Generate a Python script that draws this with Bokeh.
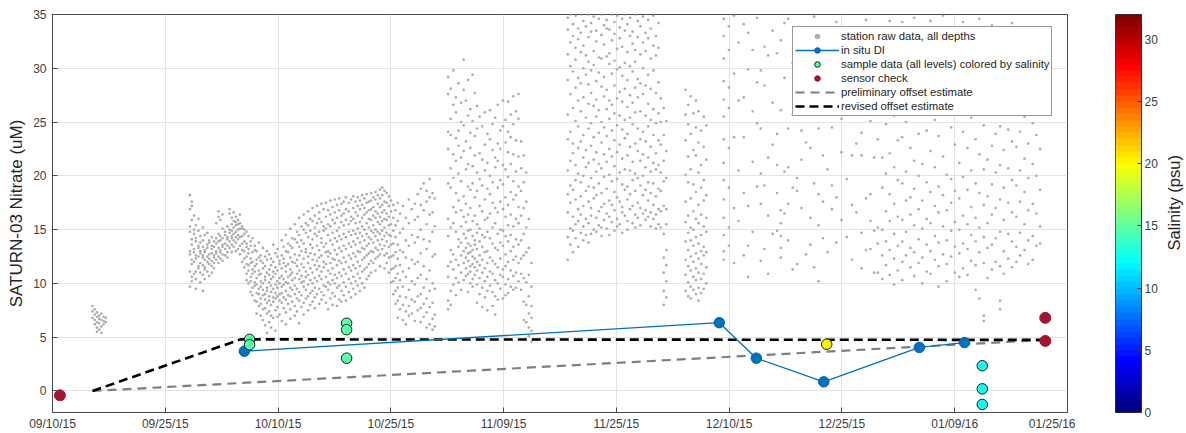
import numpy as np
from math import pi
from bokeh.plotting import figure
from bokeh.models import (ColumnDataSource, FixedTicker, Legend, LegendItem,
                          LinearColorMapper, Label, CustomJSTickFormatter)
from bokeh.layouts import row
from bokeh.embed import file_html
from bokeh.resources import INLINE
from bokeh.transform import linear_cmap

# ---------------- data (x = days since 09/10/15) ----------------
x_tick_labels = ["09/10/15", "09/25/15", "10/10/15", "10/25/15", "11/09/15",
                 "11/25/15", "12/10/15", "12/25/15", "01/09/16", "01/25/16"]
x_span_days = 137
y_tick_values = [0, 5, 10, 15, 20, 25, 30, 35]
sal_tick_values = [0, 5, 10, 15, 20, 25, 30]

# station raw data, all depths: (day, [nitrate values read at that day])
raw_columns = [
    (5.4, [7.9, 7.4, 6.8]), (5.7, [7.6, 7.1, 6.6, 6.2]), (6.0, [7.3, 6.9, 6.4, 5.9, 5.5]),
    (6.3, [7.0, 6.7, 6.3, 5.7]), (6.6, [7.2, 6.6, 6.0, 5.4]), (6.9, [6.9, 6.5, 6.2]), (7.2, [6.8, 6.4]),
    (18.55, [18.2, 16.9, 15.3, 14.8, 13.0, 12.7, 11.1, 9.7]),
    (18.8, [17.6, 17.2, 15.9, 14.1, 13.6, 12.2, 11.8, 10.6, 10.2]),
    (19.1, [16.3, 15.0, 14.6, 13.2, 12.9, 12.0, 10.9]),
    (19.35, [15.4, 14.2, 13.9, 12.6, 12.3, 11.1, 10.4, 9.5]),
    (19.7, [16.0, 14.9, 13.5, 13.3, 12.5, 11.6, 11.4]),
    (19.95, [14.4, 13.8, 13.0, 12.8, 11.9, 11.0, 10.1]),
    (20.3, [15.2, 14.0, 13.4, 12.6, 12.4, 11.7, 10.8, 9.3]),
    (20.55, [14.5, 13.1, 12.9, 12.2, 11.5, 11.3, 10.4]),
    (20.9, [14.7, 13.6, 13.3, 12.5, 12.0, 11.1]),
    (21.15, [14.0, 13.8, 12.7, 12.3, 11.8, 10.7]),
    (21.5, [14.3, 13.5, 13.2, 12.8, 12.1, 11.6, 11.0]),
    (21.8, [13.9, 13.4, 12.6, 12.4, 11.9, 11.4]),
    (22.1, [15.6, 14.2, 13.7, 13.0, 12.8, 12.2]),
    (22.4, [16.7, 16.2, 14.6, 13.9, 13.3, 12.5, 11.9]),
    (22.65, [15.9, 14.4, 14.0, 13.1, 12.9, 12.3]),
    (22.95, [16.4, 15.1, 14.2, 13.6, 13.4, 12.7, 12.1]),
    (23.3, [14.8, 14.5, 13.7, 13.2, 12.6]),
    (23.6, [15.3, 14.3, 14.1, 13.5, 12.9, 12.4]),
    (23.9, [16.9, 16.5, 15.0, 14.7, 13.9, 13.3]),
    (24.2, [16.1, 15.5, 14.9, 14.4, 14.2, 13.6, 12.9]),
    (24.45, [16.6, 15.8, 15.2, 14.6, 14.0, 13.4]),
    (24.75, [16.2, 15.7, 15.4, 14.8, 14.3, 13.8, 13.0]),
    (25.05, [15.9, 15.5, 15.0, 14.5, 14.1, 13.2]),
    (25.3, [16.4, 15.6, 15.1, 14.3, 13.5, 12.7]),
    (25.6, [15.3, 15.1, 14.4, 13.7, 13.1, 12.0]),
    (25.9, [15.0, 14.6, 13.9, 13.0, 12.3, 11.5]),
    (26.2, [14.8, 13.7, 13.4, 12.5, 11.8, 10.9, 10.3]),
    (26.45, [14.4, 13.2, 12.8, 11.7, 11.2, 10.0]),
    (26.75, [13.9, 13.5, 12.3, 11.9, 10.6, 10.2, 9.2]),
    (27.0, [14.2, 12.9, 12.0, 11.3, 10.9, 9.6, 8.9]),
    (27.3, [13.5, 13.1, 11.6, 11.1, 10.1, 9.8, 8.4]),
    (27.55, [13.0, 12.2, 11.8, 10.5, 9.9, 9.1, 8.3, 7.2]),
    (27.85, [13.8, 12.4, 11.2, 10.8, 9.5, 9.0, 7.9]),
    (28.1, [12.6, 12.1, 10.9, 10.2, 9.7, 8.6, 8.1, 7.0]),
    (28.4, [13.3, 11.9, 11.4, 10.0, 9.4, 8.9, 7.6, 6.6]),
    (28.7, [12.5, 11.6, 10.6, 10.3, 9.0, 8.5, 7.7, 6.1]),
    (28.95, [13.0, 12.2, 11.0, 9.6, 9.3, 8.2, 7.2, 5.4]),
    (29.25, [12.7, 11.3, 10.8, 10.1, 8.8, 8.4, 7.4, 6.4]),
    (29.5, [12.3, 11.7, 10.4, 9.8, 9.2, 8.0, 7.0, 5.9]),
    (29.8, [13.6, 12.0, 11.1, 10.6, 9.5, 8.7, 8.3, 6.8]),
    (30.1, [12.8, 11.5, 10.9, 9.9, 9.1, 8.6, 7.5, 5.6]),
    (30.35, [13.2, 12.5, 11.2, 10.2, 9.6, 8.8, 7.8, 6.9]),
    (30.65, [12.1, 11.8, 10.5, 10.0, 9.0, 8.4, 7.1]),
    (30.95, [14.0, 12.6, 11.4, 10.7, 9.7, 9.1, 8.2, 6.5]),
    (31.2, [13.4, 12.3, 11.9, 10.4, 9.9, 8.7, 7.7]),
    (31.5, [14.5, 13.0, 11.6, 11.1, 10.1, 9.3, 8.5, 7.3, 6.2]),
    (31.8, [13.7, 12.9, 11.8, 10.6, 10.0, 8.9, 8.1]),
    (32.1, [15.1, 13.5, 12.4, 11.3, 10.8, 9.6, 8.8, 7.6, 6.7]),
    (32.35, [14.2, 13.3, 12.0, 11.0, 10.3, 9.4, 8.3]),
    (32.7, [15.5, 14.1, 12.7, 11.9, 10.5, 9.8, 9.0, 7.9, 7.0]),
    (33.0, [14.8, 13.8, 12.2, 11.6, 10.9, 9.5, 8.6, 7.4]),
    (33.3, [16.1, 14.5, 13.4, 12.6, 11.2, 10.4, 9.2, 8.4, 6.3]),
    (33.6, [15.3, 14.0, 13.0, 11.8, 10.7, 10.1, 8.9, 7.8]),
    (33.9, [16.4, 15.0, 13.7, 12.3, 11.5, 10.2, 9.7, 8.2, 7.1]),
    (34.2, [15.6, 14.7, 13.2, 12.9, 11.1, 10.6, 9.4, 8.6]),
    (34.5, [16.7, 15.4, 14.3, 12.5, 11.9, 10.8, 9.9, 8.8, 7.5]),
    (34.8, [16.0, 14.9, 13.6, 12.8, 11.4, 10.3, 9.1, 8.0]),
    (35.1, [17.0, 15.8, 14.1, 13.3, 12.2, 11.0, 10.0, 9.3, 8.3]),
    (35.4, [16.3, 15.2, 14.6, 12.7, 11.7, 10.5, 9.6, 8.7, 7.7]),
    (35.7, [17.2, 15.6, 14.4, 13.5, 12.1, 11.3, 10.2, 9.0]),
    (36.0, [16.6, 16.0, 14.8, 13.1, 12.4, 11.6, 10.7, 9.5, 8.1]),
    (36.3, [17.4, 15.7, 14.2, 13.8, 12.6, 11.1, 10.4, 9.2, 8.5]),
    (36.6, [16.9, 15.3, 14.9, 13.4, 12.0, 11.5, 9.8, 8.9]),
    (36.9, [17.5, 16.2, 15.1, 13.7, 12.9, 11.8, 10.6, 9.7, 8.2]),
    (37.2, [16.8, 15.5, 14.5, 13.0, 12.5, 11.2, 10.1, 9.4, 7.6]),
    (37.5, [17.7, 16.4, 15.3, 14.0, 12.8, 11.9, 10.9, 9.9, 8.6]),
    (37.8, [17.1, 15.9, 14.7, 13.6, 12.3, 11.4, 10.3, 9.1, 8.0]),
    (38.1, [17.8, 16.6, 15.6, 14.2, 13.1, 12.2, 10.8, 10.0, 8.8]),
    (38.4, [17.3, 16.1, 14.9, 13.9, 12.7, 11.7, 10.5, 9.6, 7.9]),
    (38.7, [17.9, 16.8, 15.2, 14.4, 13.3, 12.1, 11.0, 9.8, 8.5]),
    (39.0, [17.4, 16.3, 15.7, 14.1, 13.0, 11.9, 10.7, 9.3, 8.3]),
    (39.3, [17.6, 16.5, 15.4, 14.6, 13.5, 12.4, 11.3, 10.1, 8.9]),
    (39.6, [18.0, 16.9, 15.9, 14.3, 13.2, 12.0, 10.9, 9.7, 8.4]),
    (40.0, [17.5, 16.7, 15.5, 14.8, 13.7, 12.6, 11.5, 10.4, 9.2]),
    (40.3, [17.8, 16.2, 15.8, 14.5, 13.4, 12.3, 11.2, 10.0, 8.7]),
    (40.6, [18.1, 17.0, 16.0, 14.9, 13.9, 12.8, 11.7, 10.6, 9.5]),
    (40.9, [17.6, 16.6, 15.6, 14.6, 13.6, 12.5, 11.4, 10.2, 9.0]),
    (41.2, [18.0, 17.2, 16.3, 15.1, 14.2, 13.0, 12.0, 10.9, 9.8]),
    (41.5, [17.7, 16.9, 15.7, 14.7, 13.8, 12.9, 11.6, 10.5, 9.3]),
    (41.8, [18.2, 17.3, 16.1, 15.3, 14.4, 13.3, 12.2, 11.1, 10.0]),
    (42.1, [17.9, 17.0, 16.4, 15.0, 14.0, 13.2, 12.4, 11.3, 9.6]),
    (42.4, [18.3, 17.5, 16.6, 15.6, 14.6, 13.5, 12.6, 11.5, 10.4]),
    (42.7, [17.6, 16.8, 16.0, 15.2, 14.3, 13.7, 12.8, 11.8, 10.7]),
    (43.0, [18.4, 17.7, 16.9, 15.9, 14.9, 14.1, 13.0, 12.1, 11.0]),
    (43.3, [18.0, 17.1, 16.3, 15.4, 14.7, 13.8, 12.9, 11.9]),
    (43.6, [18.5, 17.8, 16.7, 16.1, 15.0, 14.4, 13.3, 12.3, 11.2]),
    (43.9, [18.2, 17.4, 16.5, 15.7, 14.8, 14.0, 13.1, 12.5]),
    (44.2, [18.7, 17.9, 17.1, 16.2, 15.5, 14.6, 13.6, 12.7, 11.6]),
    (44.5, [18.9, 18.2, 17.3, 16.6, 15.8, 14.9, 14.1, 13.2]),
    (44.8, [18.6, 17.6, 16.8, 16.0, 15.2, 14.4, 13.5, 12.6, 11.4]),
    (45.1, [18.4, 17.5, 16.5, 15.9, 14.7, 13.9, 12.8, 11.9]),
    (45.4, [18.1, 17.2, 16.2, 15.4, 14.5, 13.4, 12.4, 11.0]),
    (45.7, [17.7, 16.7, 15.5, 14.4, 13.6, 12.5, 11.3, 10.1]),
    (46.0, [17.3, 16.1, 14.9, 13.7, 12.6, 11.4, 10.2, 9.0]),
    (46.3, [16.8, 15.4, 14.3, 12.9, 11.6, 10.5, 9.3, 8.1]),
    (46.6, [17.5, 15.8, 13.6, 12.3, 10.9, 9.6, 8.4, 6.8]),
    (46.9, [16.5, 14.7, 13.1, 11.7, 10.3, 8.8, 7.6]),
    (47.3, [17.2, 15.1, 12.9, 11.1, 9.7, 8.0, 6.6]),
    (47.7, [16.1, 14.0, 12.4, 10.6, 8.7, 7.4, 6.2]),
    (48.1, [17.8, 15.6, 13.5, 11.4, 9.4, 7.9, 7.0]),
    (48.5, [16.9, 14.5, 12.2, 10.2, 8.5, 7.2]),
    (48.9, [17.4, 15.9, 13.8, 11.8, 9.9, 8.3, 6.5]),
    (49.3, [18.3, 16.2, 14.3, 12.0, 10.5, 8.8, 7.5]),
    (49.7, [18.8, 17.3, 15.0, 12.8, 10.8, 9.0, 7.7, 6.4]),
    (50.1, [19.3, 16.8, 14.1, 11.6, 9.6, 8.1, 6.9]),
    (50.5, [18.6, 17.6, 15.5, 13.2, 10.4, 8.6, 7.3, 5.9]),
    (50.9, [19.7, 18.0, 16.4, 13.9, 11.2, 9.3, 7.8, 6.2]),
    (51.3, [18.4, 16.6, 14.8, 12.5, 10.0, 8.2, 6.7, 5.7]),
    (51.6, [17.9, 15.3, 12.7, 9.5, 7.1, 6.0]),
    (53.4, [29.2, 27.6, 24.1, 22.5, 19.3, 16.0, 14.4, 11.6, 10.6, 8.4, 7.6]),
    (53.75, [28.1, 25.3, 23.8, 20.7, 18.9, 15.2, 13.1, 12.0, 9.3, 8.0]),
    (54.1, [29.8, 26.6, 22.0, 19.8, 17.1, 15.6, 12.7, 11.3, 9.9]),
    (54.45, [27.3, 25.9, 23.5, 21.4, 18.4, 16.6, 14.8, 12.2, 10.5, 8.9]),
    (54.8, [28.6, 24.2, 22.8, 20.2, 17.7, 14.1, 13.4, 11.7, 10.1]),
    (55.15, [26.8, 25.0, 21.7, 19.5, 16.8, 15.3, 13.8, 12.6, 11.0, 9.4]),
    (55.5, [30.8, 28.0, 24.7, 22.3, 18.1, 16.2, 14.6, 13.0, 11.9, 10.3]),
    (55.8, [27.0, 23.2, 20.6, 17.4, 15.7, 14.2, 13.3, 12.4, 11.4, 10.7]),
    (56.1, [28.9, 25.6, 21.1, 19.0, 16.4, 14.9, 13.7, 12.8, 12.1, 10.9, 9.2]),
    (56.4, [26.2, 24.0, 22.6, 18.7, 17.0, 15.0, 13.5, 12.9, 11.6, 11.1, 10.0]),
    (56.7, [29.4, 25.1, 20.9, 19.3, 15.8, 14.4, 13.1, 12.5, 11.8, 10.4, 9.7]),
    (57.0, [27.7, 23.7, 21.9, 18.0, 16.3, 14.0, 13.6, 12.3, 11.5, 10.8]),
    (57.3, [26.5, 24.4, 20.3, 18.6, 15.5, 14.7, 13.2, 12.0, 11.2, 9.9, 8.2]),
    (57.65, [25.5, 22.1, 19.7, 17.2, 15.1, 13.9, 12.6, 11.7, 10.5, 9.0]),
    (58.0, [24.6, 21.5, 19.1, 16.7, 14.5, 13.4, 12.2, 11.0, 9.6, 7.8]),
    (58.35, [25.9, 22.9, 20.5, 17.8, 15.9, 14.3, 12.9, 11.4, 10.2, 8.7]),
    (58.7, [23.9, 21.2, 18.8, 16.1, 14.8, 13.0, 11.9, 10.6, 9.3, 7.5]),
    (59.05, [26.1, 23.4, 20.0, 18.3, 16.5, 14.2, 12.4, 11.1, 9.8]),
    (59.4, [24.8, 22.4, 19.4, 17.5, 15.2, 13.7, 12.1, 10.9, 9.2, 7.9]),
    (59.75, [25.4, 21.7, 20.8, 17.0, 15.6, 13.3, 11.8, 10.3, 8.8, 7.1]),
    (60.1, [26.6, 23.0, 21.4, 18.9, 16.6, 14.6, 13.1, 11.5, 10.0, 8.5]),
    (60.45, [24.2, 22.5, 19.6, 17.6, 15.0, 13.8, 12.3, 10.8, 9.5]),
    (60.8, [27.0, 24.6, 21.0, 19.2, 16.9, 14.9, 13.5, 11.3, 10.6, 8.6]),
    (61.15, [25.2, 23.1, 20.6, 18.0, 16.2, 14.4, 12.7, 11.6, 9.9, 8.9]),
    (61.5, [26.9, 24.1, 22.2, 19.9, 17.3, 15.4, 13.9, 12.0, 10.4, 9.1]),
    (61.85, [25.7, 23.6, 21.1, 18.5, 16.4, 14.5, 13.0, 11.2, 9.7]),
    (62.2, [27.4, 24.8, 22.0, 19.5, 17.8, 15.3, 13.4, 12.2, 10.7, 9.4]),
    (62.55, [26.0, 23.3, 20.4, 18.2, 16.0, 14.1, 12.5, 11.0, 9.6]),
    (62.9, [27.6, 25.3, 21.8, 19.0, 17.1, 15.6, 13.6, 11.9, 10.2]),
    (63.25, [23.2, 20.7, 18.6, 16.3, 14.0, 12.3, 10.9, 9.4]),
    (63.6, [21.9, 19.4, 17.0, 14.6, 12.6, 10.5, 8.3, 6.6]),
    (63.95, [20.3, 17.6, 15.2, 12.9, 10.1, 8.0, 6.4]),
    (64.3, [16.0, 13.3, 10.8, 8.8, 7.2, 5.9, 5.1]),
    (64.65, [11.9, 9.7, 7.9, 6.8, 5.6, 4.6]),
    (69.55, [34.7, 33.6, 31.3, 28.9, 25.7, 23.4, 20.5, 18.3, 16.6, 14.3, 12.2]),
    (69.9, [35.0, 32.4, 30.2, 27.6, 24.1, 21.4, 19.1, 17.5, 15.1, 13.6]),
    (70.25, [34.1, 33.0, 29.7, 26.3, 23.0, 22.1, 18.7, 16.2, 14.9, 12.9]),
    (70.6, [34.9, 31.9, 30.8, 28.2, 25.1, 21.0, 19.6, 17.8, 15.5, 14.2]),
    (70.95, [33.7, 32.7, 29.1, 27.0, 24.6, 22.6, 20.2, 16.9, 15.8, 13.4]),
    (71.3, [35.0, 33.3, 31.5, 28.6, 26.0, 23.2, 19.4, 18.1, 16.4, 14.7]),
    (71.65, [34.4, 32.1, 30.0, 27.3, 23.8, 21.7, 20.0, 17.2, 15.3, 14.0]),
    (72.0, [33.9, 31.2, 29.4, 25.4, 22.4, 20.8, 18.6, 16.0, 14.5]),
    (72.35, [35.0, 32.9, 30.6, 28.5, 26.7, 24.4, 21.2, 19.0, 17.6, 15.6, 13.8]),
    (72.7, [34.2, 33.4, 29.8, 27.7, 24.9, 22.8, 19.8, 17.0, 16.3, 14.6]),
    (73.05, [34.8, 31.6, 30.3, 26.5, 23.6, 21.5, 18.9, 17.9, 15.0]),
    (73.4, [33.5, 32.5, 28.8, 27.1, 25.5, 22.2, 20.4, 18.2, 16.1, 14.8]),
    (73.75, [34.6, 31.0, 29.6, 26.1, 24.0, 21.1, 19.3, 16.7, 15.4]),
    (74.1, [35.0, 33.1, 30.9, 28.3, 25.0, 23.1, 20.7, 18.4, 17.1, 15.2, 14.4]),
    (74.45, [34.0, 32.2, 29.2, 27.4, 24.5, 22.0, 19.9, 17.4, 15.9]),
    (74.8, [34.5, 33.7, 31.1, 28.0, 26.2, 23.7, 21.3, 18.8, 16.5, 15.1]),
    (75.15, [33.6, 31.4, 30.4, 27.0, 25.3, 22.5, 20.1, 17.7, 16.2, 14.5]),
    (75.5, [35.0, 32.6, 29.5, 26.6, 24.2, 21.8, 19.5, 17.3, 15.7]),
    (75.85, [34.3, 33.2, 30.7, 28.4, 25.8, 23.3, 20.9, 18.5, 16.8, 14.9]),
    (76.2, [34.9, 31.8, 29.9, 27.2, 24.7, 22.2, 19.7, 18.0, 16.0, 15.3]),
    (76.55, [33.8, 32.8, 30.1, 27.8, 25.6, 22.9, 20.3, 17.6, 15.5]),
    (76.9, [34.6, 32.0, 29.3, 26.9, 24.3, 21.6, 19.2, 17.1, 16.6, 14.7]),
    (77.25, [35.0, 33.5, 30.5, 28.1, 25.2, 23.5, 20.6, 18.7, 16.3]),
    (77.6, [34.1, 31.5, 28.9, 26.4, 23.9, 21.9, 19.0, 17.8, 15.8, 15.0]),
    (77.95, [34.7, 33.0, 30.2, 27.5, 25.4, 22.7, 20.5, 18.3, 16.9]),
    (78.3, [33.4, 32.3, 29.7, 26.8, 24.8, 21.3, 19.6, 17.2, 15.6]),
    (78.65, [35.0, 31.7, 30.6, 28.2, 25.9, 23.0, 20.2, 18.6, 16.4, 15.2]),
    (79.0, [34.4, 32.9, 29.0, 27.3, 24.4, 22.3, 19.8, 17.5, 16.1]),
    (79.35, [33.9, 31.3, 28.6, 26.0, 23.4, 21.4, 19.1, 17.0, 15.4]),
    (79.7, [34.8, 32.4, 30.0, 27.6, 24.1, 22.0, 20.0, 18.2, 16.5]),
    (80.05, [33.3, 31.6, 28.4, 25.6, 23.2, 20.8, 18.7, 16.8, 15.9]),
    (80.4, [34.5, 32.8, 29.4, 26.7, 24.6, 21.7, 19.4, 17.7, 16.2]),
    (80.75, [33.7, 30.9, 28.1, 25.2, 22.7, 20.4, 18.4, 16.6, 15.3]),
    (81.1, [34.9, 32.1, 29.8, 26.2, 23.8, 21.2, 19.3, 17.3, 16.0]),
    (81.45, [33.0, 31.2, 27.7, 24.9, 22.1, 20.6, 18.1, 16.4, 15.1]),
    (81.8, [34.2, 31.9, 28.7, 25.8, 23.3, 21.0, 18.8, 16.9, 15.5]),
    (82.1, [27.2, 25.0, 22.9, 20.3, 18.6, 16.7, 15.2]),
    (82.5, [26.3, 23.8, 21.4, 19.5, 17.2, 14.6, 12.4, 11.0, 9.3, 8.0]),
    (82.85, [25.1, 22.3, 19.8, 16.9, 15.5, 13.1, 11.7, 10.2, 8.7]),
    (85.45, [28.0, 25.7, 23.3, 20.1, 17.6, 15.7, 13.9, 12.2, 10.8, 9.3]),
    (85.8, [26.6, 24.8, 21.8, 19.4, 16.3, 14.7, 13.1, 11.6, 10.1, 8.8]),
    (86.15, [27.4, 23.9, 20.6, 17.9, 15.2, 14.0, 12.5, 11.2, 9.7, 8.6]),
    (86.5, [25.8, 22.4, 19.2, 16.7, 15.0, 13.5, 12.0, 10.6, 9.4]),
    (86.85, [27.0, 24.5, 21.9, 18.5, 16.0, 14.3, 12.8, 11.4, 10.3, 9.0]),
    (87.2, [26.0, 23.1, 20.3, 17.3, 15.6, 13.7, 12.3, 11.0, 9.6, 8.4]),
    (87.55, [24.2, 21.0, 18.9, 16.4, 14.5, 13.0, 11.8, 10.4, 9.1]),
    (87.9, [25.5, 22.7, 19.6, 17.7, 15.3, 13.4, 12.6, 10.9, 9.5]),
    (88.25, [24.7, 21.5, 18.2, 16.1, 14.8, 12.9, 11.5, 10.0]),
    (90.6, [34.6, 33.0, 30.9, 28.8, 27.1, 25.5, 23.4, 21.2, 19.6, 17.8, 16.1, 14.5, 13.0, 12.2]),
    (91.3, [33.9, 31.7, 28.2, 26.3, 22.6, 18.9, 15.2, 13.5]),
    (92.0, [34.9, 29.5, 23.6, 17.0, 11.9]), (92.6, [32.4, 27.0, 20.5, 15.8]),
    (93.3, [34.1, 27.3, 23.6, 18.4, 12.6]), (93.9, [33.3, 29.9, 17.2, 13.5, 10.6]),
    (94.5, [31.7, 26.0, 21.3, 14.8]), (95.1, [34.7, 28.7, 24.9, 19.0]),
    (95.6, [29.8, 24.4, 20.2, 17.4, 12.1]), (96.1, [32.0, 28.4, 19.1, 13.2]),
    (96.6, [31.2, 21.7, 16.3, 10.9]), (97.2, [33.5, 26.8, 22.9, 14.6]),
    (97.8, [31.4, 23.9, 21.0, 18.4, 14.9]), (98.3, [32.6, 26.1, 16.8, 15.6, 14.4, 13.3, 12.4]),
    (98.8, [34.2, 29.1, 20.4, 16.5]), (99.3, [34.6, 24.4, 20.8, 17.4, 14.0]),
    (99.9, [30.5, 25.7, 18.9, 11.3]), (100.5, [33.0, 27.6, 19.8, 18.6, 11.8]),
    (101.1, [31.9, 24.2, 21.5, 17.0]), (101.7, [33.7, 28.9, 23.1, 12.7]),
    (102.3, [30.3, 22.6, 16.1, 13.6]), (102.8, [34.8, 26.6, 19.3, 11.5]),
    (103.4, [32.2, 24.4, 18.3, 15.4, 10.2]), (104.0, [29.4, 21.9, 17.6, 14.2]),
    (104.6, [33.4, 27.1, 20.6, 12.9]), (105.2, [31.0, 24.5, 19.1, 16.9]),
    (105.8, [34.3, 28.3, 18.0, 13.8]), (106.5, [30.0, 25.3, 22.2, 15.9]),
    (107.2, [32.8, 26.4, 19.7, 14.3]), (107.9, [29.7, 21.9, 17.3, 12.2]),
    (108.5, [33.6, 27.8, 23.0, 16.6]), (109.2, [31.3, 24.0, 21.9, 14.7, 11.4]),
    (109.8, [34.5, 28.6, 17.9, 13.1]), (110.4, [30.7, 25.1, 18.3, 15.8, 13.2]),
    (110.9, [32.5, 21.7, 14.9, 11.0]), (111.4, [29.0, 23.4, 15.2, 13.7, 11.0]),
    (112.0, [33.1, 26.7, 21.7, 18.9, 15.0, 12.6, 10.4]),
    (112.5, [30.2, 24.8, 20.2, 16.7, 13.9, 11.7]),
    (113.0, [34.4, 27.9, 22.1, 18.3, 15.8, 13.1, 10.8]),
    (113.6, [31.6, 25.6, 20.8, 17.4, 14.6, 12.3, 9.9]),
    (114.1, [33.0, 23.3, 19.6, 16.2, 13.5, 11.2]),
    (114.7, [34.3, 28.5, 23.6, 19.3, 15.9, 13.9, 12.0, 10.3]),
    (115.2, [30.9, 25.0, 20.4, 17.7, 14.8, 12.6]),
    (115.8, [32.7, 22.6, 18.0, 16.4, 13.3, 11.5]),
    (116.3, [34.7, 27.4, 21.4, 18.8, 15.4, 12.9, 10.7]),
    (116.9, [29.6, 23.9, 20.0, 16.9, 14.1, 11.9]),
    (117.4, [33.2, 26.2, 21.1, 17.7, 15.1, 12.4, 10.0]),
    (118.0, [31.1, 24.2, 19.4, 16.0, 13.6, 11.1]),
    (118.5, [34.4, 28.0, 22.3, 18.5, 15.6, 13.0, 10.9]),
    (119.1, [30.4, 25.2, 20.8, 17.2, 14.4, 12.2]),
    (119.6, [32.9, 23.7, 19.0, 16.6, 13.8, 11.6, 9.7]),
    (120.2, [34.9, 27.0, 21.8, 18.2, 15.3, 12.7]),
    (120.7, [31.5, 25.8, 20.1, 16.8, 14.0, 11.8, 10.2]),
    (121.3, [33.6, 24.5, 19.7, 17.5, 14.9, 12.5]),
    (121.8, [29.9, 22.9, 18.6, 15.7, 13.4, 11.0]),
    (122.4, [32.3, 26.5, 21.2, 17.9, 15.0, 12.8, 10.6]),
    (122.9, [34.3, 24.1, 19.9, 16.3, 13.7, 11.4]),
    (123.5, [30.8, 27.7, 22.6, 18.7, 15.5, 13.2, 10.8]),
    (124.0, [33.4, 25.4, 20.5, 17.1, 14.5, 12.1]),
    (124.6, [31.8, 23.4, 19.3, 16.1, 13.9, 11.7, 9.4]),
    (125.1, [34.6, 28.2, 22.0, 18.4, 15.2, 12.9, 8.6]),
    (125.7, [30.1, 24.7, 20.6, 17.3, 14.3, 11.9, 7.0, 6.5]),
    (126.2, [32.7, 26.9, 21.5, 18.1, 15.6, 13.3, 10.5]),
    (126.8, [34.0, 25.9, 22.8, 19.2, 16.4, 13.6, 11.3]),
    (127.3, [31.2, 27.2, 23.9, 20.3, 17.0, 14.2, 12.0]),
    (127.9, [33.8, 29.0, 24.6, 21.0, 17.8, 14.8, 11.6, 8.4, 7.6]),
    (128.4, [30.6, 26.3, 22.4, 18.9, 15.9, 13.0, 10.9]),
    (129.0, [32.4, 28.4, 24.3, 20.7, 17.5, 14.6, 12.3]),
    (129.5, [34.2, 27.5, 23.2, 19.6, 16.6, 13.9, 11.5]),
    (130.1, [31.0, 26.8, 22.7, 19.1, 16.2, 13.4, 12.0]),
    (130.6, [33.3, 28.8, 24.1, 20.5, 17.6, 14.7, 12.6]),
    (131.2, [30.3, 25.5, 21.6, 18.5, 15.5, 13.1]),
    (131.7, [32.1, 27.3, 23.0, 19.8, 16.8, 14.0, 11.8]),
    (132.3, [29.3, 24.9, 21.1, 17.4, 14.4, 12.2]),
    (132.8, [28.7, 23.8, 20.0, 16.5, 13.5]),
    (133.3, [26.1, 22.5, 18.7, 15.3, 13.7]),
]

insitu_day = [25.9, 90.0, 95.0, 104.1, 117.0, 123.1]
insitu_no3 = [3.7, 6.35, 3.05, 0.85, 4.05, 4.5]

sample_day = [26.6, 26.6, 39.7, 39.7, 39.7, 104.5, 125.5, 125.5, 125.5]
sample_no3 = [4.8, 4.3, 6.3, 5.7, 3.05, 4.35, 2.35, 0.2, -1.25]
sample_sal = [14.5, 14.5, 14.5, 14.5, 14.5, 20.3, 12.5, 12.5, 12.5]

sensor_day = [1.0, 134.0, 134.0]
sensor_no3 = [-0.4, 6.8, 4.65]

prelim_day = [5.4, 134.0]
prelim_no3 = [0.0, 4.75]
revised_day = [5.4, 25.4, 134.0]
revised_no3 = [0.0, 4.8, 4.75]

# ---------------- styling helpers ----------------
FONT = "Liberation Sans"
AX = "#4a4a4a"
TXT = "#262626"


def jet(n):
    cols = []
    for i in range(n):
        t = i / (n - 1)
        r = min(max(1.5 - abs(4 * t - 3), 0), 1)
        g = min(max(1.5 - abs(4 * t - 2), 0), 1)
        b = min(max(1.5 - abs(4 * t - 1), 0), 1)
        cols.append("#%02x%02x%02x" % (int(r * 255), int(g * 255), int(b * 255)))
    return cols


palette = jet(64)
mapper = LinearColorMapper(palette=palette, low=0, high=32)

raw_day = [d for d, vals in raw_columns for v in vals]
raw_no3 = [v for d, vals in raw_columns for v in vals]

x_ticks = [i * x_span_days / 9 for i in range(10)]

H = 433
p = figure(width=1075, height=H, x_range=(0, x_span_days), y_range=(-2, 35),
           output_backend="svg", toolbar_location=None,
           min_border_left=52, min_border_top=14, min_border_bottom=21, min_border_right=8)
p.background_fill_color = "white"
p.outline_line_color = AX

p.xaxis.ticker = FixedTicker(ticks=x_ticks)
p.xaxis.formatter = CustomJSTickFormatter(args=dict(labels=x_tick_labels), code="return labels[index];")
p.yaxis.ticker = FixedTicker(ticks=y_tick_values)
for ax in (p.xaxis[0], p.yaxis[0]):
    ax.major_tick_in = 5
    ax.major_tick_out = 0
    ax.minor_tick_line_color = None
    ax.axis_line_color = AX
    ax.major_tick_line_color = AX
    ax.major_label_text_font = FONT
    ax.major_label_text_font_size = "12px"
    ax.major_label_text_color = "#404040"
p.xaxis.major_label_standoff = 4
p.yaxis.major_label_standoff = 6
p.yaxis.axis_label = "SATURN-03 Nitrate (uM)"
p.yaxis.axis_label_text_font = FONT
p.yaxis.axis_label_text_font_style = "normal"
p.yaxis.axis_label_text_font_size = "17px"
p.yaxis.axis_label_text_color = TXT
p.yaxis.axis_label_standoff = 4

p.xgrid.ticker = FixedTicker(ticks=x_ticks)
p.ygrid.ticker = FixedTicker(ticks=y_tick_values)
p.grid.grid_line_color = "#e3e3e3"
p.grid.grid_line_width = 1

# glyphs
r_raw = p.scatter(raw_day, raw_no3, marker="circle", size=2.7, fill_color="#aeaeae", line_color=None)
r_pre = p.line(prelim_day, prelim_no3, line_color="#7f7f7f", line_width=2.2, line_dash="9 6")
r_rev = p.line(revised_day, revised_no3, line_color="black", line_width=2.6, line_dash="9 5")
r_dil = p.line(insitu_day, insitu_no3, line_color="#0072BD", line_width=1.3)
r_dim = p.scatter(insitu_day, insitu_no3, marker="circle", size=10.5, fill_color="#0072BD", line_color="#0062a8")
src_s = ColumnDataSource(dict(x=sample_day, y=sample_no3, s=sample_sal))
r_smp = p.scatter("x", "y", source=src_s, marker="circle", size=10.5,
                  fill_color=linear_cmap("s", palette, 0, 32), line_color="#1a1a1a", line_width=1)
r_sen = p.scatter(sensor_day, sensor_no3, marker="circle", size=11, fill_color="#A2142F", line_color="#A2142F")

legend = Legend(items=[
    LegendItem(label="station raw data, all depths", renderers=[r_raw]),
    LegendItem(label="in situ DI", renderers=[r_dil, r_dim]),
    LegendItem(label="sample data (all levels) colored by salinity", renderers=[r_smp], index=0),
    LegendItem(label="sensor check", renderers=[r_sen]),
    LegendItem(label="preliminary offset estimate", renderers=[r_pre]),
    LegendItem(label="revised offset estimate", renderers=[r_rev]),
], location=(740, 296))
legend.label_text_font = FONT
legend.label_text_font_size = "11.3px"
legend.label_text_color = TXT
legend.label_height = 14
legend.glyph_height = 14
legend.glyph_width = 44
legend.label_standoff = 2
legend.spacing = 0
legend.padding = 2
legend.margin = 0
legend.border_line_color = "#333333"
legend.border_line_width = 1
legend.background_fill_alpha = 1
p.add_layout(legend)

# ---------------- colour bar panel ----------------
p2 = figure(width=85, height=H, x_range=(0, 1), y_range=(0, 32),
            output_backend="svg", toolbar_location=None,
            x_axis_location=None, y_axis_location="right",
            min_border_left=40, min_border_right=19, min_border_top=14, min_border_bottom=21)
p2.grid.visible = False
p2.outline_line_color = "#333333"
grad = np.linspace(0, 32, 256).reshape(256, 1)
p2.image(image=[grad], x=0, y=0, dw=1, dh=32, color_mapper=mapper)
ya = p2.yaxis[0]
ya.ticker = FixedTicker(ticks=sal_tick_values)
ya.major_tick_in = 4
ya.major_tick_out = 0
ya.minor_tick_line_color = None
ya.axis_line_color = "#333333"
ya.major_tick_line_color = "#333333"
ya.major_label_text_font = FONT
ya.major_label_text_font_size = "12px"
ya.major_label_text_color = "#404040"
ya.major_label_standoff = 3

# colour bar title panel
p3 = figure(width=26, height=H, x_range=(0, 1), y_range=(0, 1),
            output_backend="svg", toolbar_location=None,
            x_axis_location=None, y_axis_location=None, min_border=0)
p3.grid.visible = False
p3.outline_line_color = None
p3.add_layout(Label(x=0.5, y=0.527, text="Salinity (psu)", angle=pi / 2,
                    text_align="center", text_baseline="middle",
                    text_font=FONT, text_font_size="16.5px", text_color=TXT))

layout = row(p, p2, p3)
open("out.html", "w").write(file_html(layout, INLINE))
